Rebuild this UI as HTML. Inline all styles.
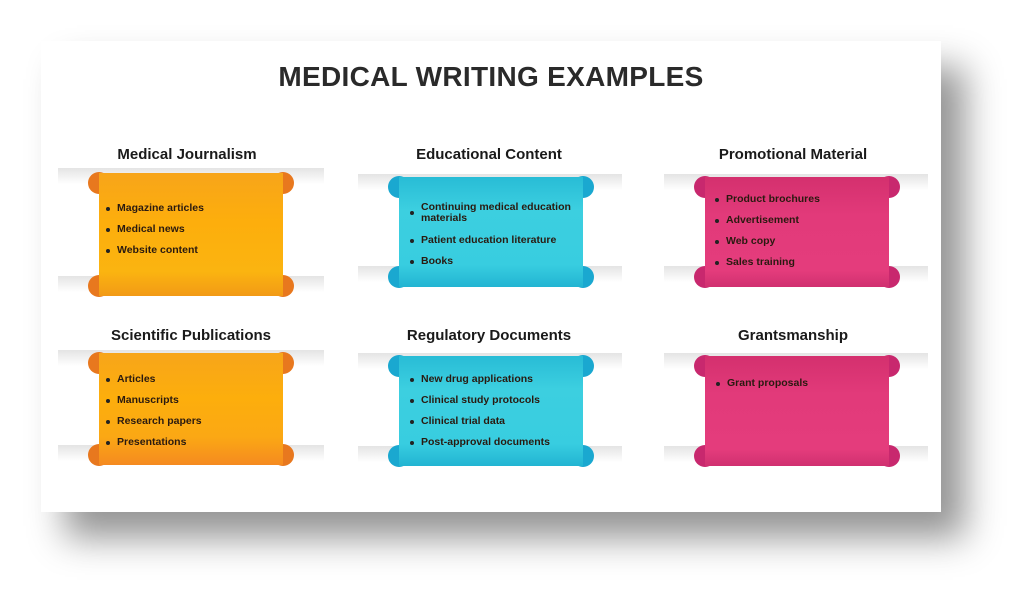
<!DOCTYPE html>
<html><head><meta charset="utf-8"><style>
body{margin:0;width:1024px;height:595px;background:#fff;position:relative;overflow:hidden;font-family:"Liberation Sans",sans-serif}
.card{position:absolute;left:41px;top:41px;width:900px;height:471px;background:#fff;box-shadow:24px 26px 34px rgba(0,0,0,.42)}
h1{position:absolute;left:41px;width:900px;top:61px;margin:0;text-align:center;font-size:28px;font-weight:bold;color:#2a2a2a;letter-spacing:.3px}
.t{position:absolute;width:300px;text-align:center;font-size:15px;font-weight:bold;color:#1a1a1a}
.band{position:absolute;height:16px;background:linear-gradient(#e4e4e4,rgba(240,240,240,0))}
.cap{position:absolute;width:22px;height:22px;border-radius:50%}
.body{position:absolute}
ul{position:absolute;margin:0;padding:0;list-style:none;font-size:10.5px;font-weight:bold;color:#2a1a10}
li{line-height:21px;padding-left:11px;position:relative}
li:before{content:"";position:absolute;left:0;top:9px;width:4px;height:4px;border-radius:50%;background:#222}
</style></head><body>
<div class="card"></div>
<h1>MEDICAL WRITING EXAMPLES</h1>

<div class="t" style="left:37px;top:146px">Medical Journalism</div>
<div class="t" style="left:339px;top:146px">Educational Content</div>
<div class="t" style="left:643px;top:146px">Promotional Material</div>
<div class="t" style="left:41px;top:327px">Scientific Publications</div>
<div class="t" style="left:339px;top:327px">Regulatory Documents</div>
<div class="t" style="left:643px;top:327px">Grantsmanship</div>

<!-- P1 -->
<div class="band" style="left:58px;width:266px;top:168px"></div>
<div class="band" style="left:58px;width:266px;top:276px"></div>
<div class="cap" style="left:88px;top:172px;background:#e8781e"></div>
<div class="cap" style="left:272px;top:172px;background:#e8781e"></div>
<div class="cap" style="left:88px;top:275px;background:#e8781e"></div>
<div class="cap" style="left:272px;top:275px;background:#e8781e"></div>
<div class="body" style="left:99px;width:184px;top:173px;height:123px;background:linear-gradient(#f7a51a,#fdae0c 40%,#fbb410 80%,#f29a16)"></div>
<ul style="left:106px;top:198px"><li>Magazine articles</li><li>Medical news</li><li>Website content</li></ul>

<!-- P2 -->
<div class="band" style="left:358px;width:264px;top:174px"></div>
<div class="band" style="left:358px;width:264px;top:266px"></div>
<div class="cap" style="left:388px;top:176px;background:#1aa8d0"></div>
<div class="cap" style="left:572px;top:176px;background:#1aa8d0"></div>
<div class="cap" style="left:388px;top:266px;background:#1aa8d0"></div>
<div class="cap" style="left:572px;top:266px;background:#1aa8d0"></div>
<div class="body" style="left:399px;width:184px;top:177px;height:110px;background:linear-gradient(#28bcd6,#3ccfe0 30%,#38cde0 80%,#22b4d2)"></div>
<ul style="left:410px;top:198px;width:170px"><li style="line-height:11px;margin:4px 0 6px">Continuing medical education materials</li><li>Patient education literature</li><li>Books</li></ul>

<!-- P3 -->
<div class="band" style="left:664px;width:264px;top:174px"></div>
<div class="band" style="left:664px;width:264px;top:266px"></div>
<div class="cap" style="left:694px;top:176px;background:#c8286e"></div>
<div class="cap" style="left:878px;top:176px;background:#c8286e"></div>
<div class="cap" style="left:694px;top:266px;background:#c8286e"></div>
<div class="cap" style="left:878px;top:266px;background:#c8286e"></div>
<div class="body" style="left:705px;width:184px;top:177px;height:110px;background:linear-gradient(#d4306e,#e23a7a 35%,#e43c7c 85%,#d03070)"></div>
<ul style="left:715px;top:189px"><li>Product brochures</li><li>Advertisement</li><li>Web copy</li><li>Sales training</li></ul>

<!-- P4 -->
<div class="band" style="left:58px;width:266px;top:350px"></div>
<div class="band" style="left:58px;width:266px;top:445px"></div>
<div class="cap" style="left:88px;top:352px;background:#e8781e"></div>
<div class="cap" style="left:272px;top:352px;background:#e8781e"></div>
<div class="cap" style="left:88px;top:444px;background:#e8781e"></div>
<div class="cap" style="left:272px;top:444px;background:#e8781e"></div>
<div class="body" style="left:99px;width:184px;top:353px;height:112px;background:linear-gradient(#f7a51a,#fdae0c 40%,#fba814 75%,#f58a20)"></div>
<ul style="left:106px;top:369px"><li>Articles</li><li>Manuscripts</li><li>Research papers</li><li>Presentations</li></ul>

<!-- P5 -->
<div class="band" style="left:358px;width:264px;top:353px"></div>
<div class="band" style="left:358px;width:264px;top:446px"></div>
<div class="cap" style="left:388px;top:355px;background:#1aa8d0"></div>
<div class="cap" style="left:572px;top:355px;background:#1aa8d0"></div>
<div class="cap" style="left:388px;top:445px;background:#1aa8d0"></div>
<div class="cap" style="left:572px;top:445px;background:#1aa8d0"></div>
<div class="body" style="left:399px;width:184px;top:356px;height:110px;background:linear-gradient(#28bcd6,#3ccfe0 30%,#38cde0 80%,#22b4d2)"></div>
<ul style="left:410px;top:369px"><li>New drug applications</li><li>Clinical study protocols</li><li>Clinical trial data</li><li>Post-approval documents</li></ul>

<!-- P6 -->
<div class="band" style="left:664px;width:264px;top:353px"></div>
<div class="band" style="left:664px;width:264px;top:446px"></div>
<div class="cap" style="left:694px;top:355px;background:#c8286e"></div>
<div class="cap" style="left:878px;top:355px;background:#c8286e"></div>
<div class="cap" style="left:694px;top:445px;background:#c8286e"></div>
<div class="cap" style="left:878px;top:445px;background:#c8286e"></div>
<div class="body" style="left:705px;width:184px;top:356px;height:110px;background:linear-gradient(#d4306e,#e23a7a 35%,#e43c7c 85%,#d03070)"></div>
<ul style="left:716px;top:373px"><li>Grant proposals</li></ul>
</body></html>
